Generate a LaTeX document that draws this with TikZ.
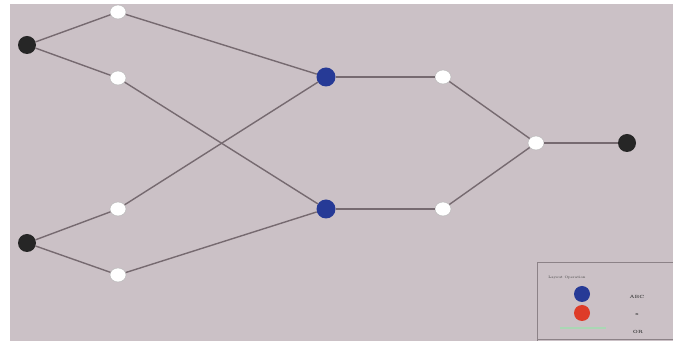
\documentclass[tikz,border=0pt]{standalone}
\usetikzlibrary{shapes.geometric}
\definecolor{bg}{RGB}{203,193,198}
\definecolor{edgec}{RGB}{118,106,112}
\definecolor{blueN}{RGB}{38,58,150}
\definecolor{redN}{RGB}{222,60,40}
\definecolor{greenL}{RGB}{170,215,180}
\definecolor{frame}{RGB}{140,130,135}
\begin{document}
\begin{tikzpicture}[x=1pt,y=-1pt,
  blk/.style={circle,fill=black!85,inner sep=0pt,minimum size=18pt},
  wht/.style={ellipse,fill=white,draw=gray!60,line width=0.4pt,inner sep=0pt,minimum width=16pt,minimum height=14pt},
  blu/.style={circle,fill=blueN,inner sep=0pt,minimum size=19pt},
  edge/.style={draw=edgec,line width=1.4pt},
  tiny/.style={font=\fontsize{4.5}{4.5}\selectfont\bfseries,text=black!75,inner sep=0pt}]
\useasboundingbox (0,0) rectangle (673,344);
\fill[white] (0,0) rectangle (673,344);
\fill[bg] (10,4) rectangle (673,341);
% legend
\draw[frame,line width=1pt] (537,263) -- (673,263);
\draw[frame,line width=1pt] (537,263) -- (537,341);
\draw[frame,line width=1pt] (537,340) -- (673,340);
\node[tiny,font=\fontsize{3.5}{3.5}\selectfont] (lt) at (567,278) {Layout Operation};
\node[circle,fill=blueN,inner sep=0pt,minimum size=16pt] (lb) at (582,294) {};
\node[circle,fill=redN,inner sep=0pt,minimum size=16pt] (lr) at (582,313) {};
\coordinate (g1) at (560,328);
\coordinate (g2) at (606,328);
\draw[greenL,line width=1.8pt] (g1) -- (g2);
\node[tiny] (la) at (637,297) {ABC};
\node[tiny] (lx) at (637,315) {x};
\node[tiny] (lo) at (638,332) {OR};
% nodes
\node[blk] (L1) at (27,45) {};
\node[blk] (L2) at (27,243) {};
\node[wht] (A) at (118,12) {};
\node[wht] (B) at (118,78) {};
\node[wht] (C) at (118,209) {};
\node[wht] (D) at (118,275) {};
\node[blu] (U1) at (326,77) {};
\node[blu] (U2) at (326,209) {};
\node[wht] (W1) at (443,77) {};
\node[wht] (W2) at (443,209) {};
\node[wht] (W3) at (536,143) {};
\node[blk] (E) at (627,143) {};
% edges
\draw[edge] (L1) -- (A);
\draw[edge] (L1) -- (B);
\draw[edge] (L2) -- (C);
\draw[edge] (L2) -- (D);
\draw[edge] (A) -- (U1);
\draw[edge] (B) -- (U2);
\draw[edge] (C) -- (U1);
\draw[edge] (D) -- (U2);
\draw[edge] (U1) -- (W1);
\draw[edge] (U2) -- (W2);
\draw[edge] (W1) -- (W3);
\draw[edge] (W2) -- (W3);
\draw[edge] (W3) -- (E);
\end{tikzpicture}
\end{document}
